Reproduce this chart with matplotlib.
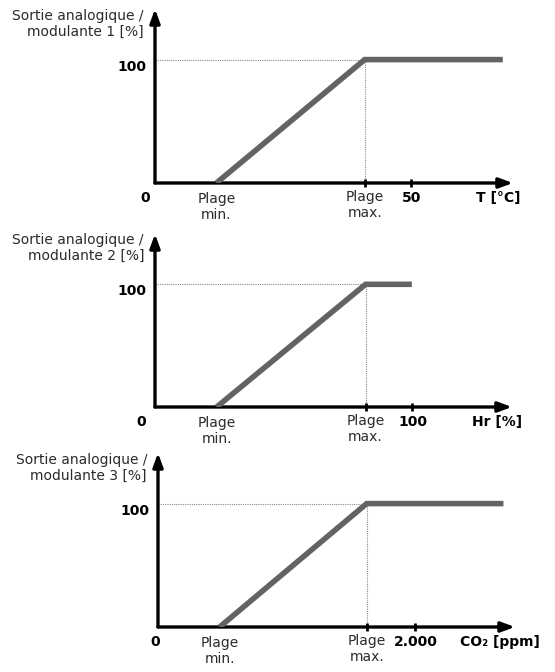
import matplotlib.pyplot as plt

# Courbes de sortie analogique / modulante (3 panneaux)
y_titles = ["Sortie analogique /\nmodulante 1 [%]",
            "Sortie analogique /\nmodulante 2 [%]",
            "Sortie analogique /\nmodulante 3 [%]"]
x_units = ["T [°C]", "Hr [%]", "CO₂ [ppm]"]
scale_ticks = [50, 100, 2000]
scale_tick_labels = ["50", "100", "2.000"]
plage_min = [12, 24, 480]
plage_max = [41, 82, 1625]
line_end = [68, 100, 2690]
axis_end = [70, 139, 2780]
y_top = 100
y_axis_end = 141

W, H = 555, 672
# axes origin (px) and arrow tips (px), top-left image coords
origins = [(155, 183), (155, 407), (158, 627)]
tips_x = [513, 512, 515]
tips_y = [9, 234, 453]
zero_dx = [-10, -14, -3]

TXT = '#2b2b2b'
LINE = '#636363'
FS = 10

fig = plt.figure(figsize=(W / 100, H / 100), dpi=100)
fig.patch.set_facecolor('white')

for i in range(3):
    ox, oy = origins[i]
    ax = fig.add_axes([ox / W, (H - oy) / H, (tips_x[i] - ox) / W, (oy - tips_y[i]) / H])
    ax.set_xlim(0, axis_end[i])
    ax.set_ylim(0, y_axis_end)
    ax.axis('off')

    # axes with arrows
    arrow = dict(arrowstyle='-|>,head_length=0.9,head_width=0.33', lw=2.4, color='black',
                 shrinkA=0, shrinkB=0, mutation_scale=9)
    ax.annotate('', xy=(axis_end[i], 0), xytext=(0, 0), arrowprops=arrow, annotation_clip=False)
    ax.annotate('', xy=(0, y_axis_end), xytext=(0, 0), arrowprops=arrow, annotation_clip=False)

    # dotted guides
    ax.plot([0, plage_max[i]], [y_top, y_top], color='#8a8a8a', lw=0.8, ls=(0, (1, 1)), zorder=1)
    ax.plot([plage_max[i], plage_max[i]], [0, y_top], color='#8a8a8a', lw=0.8, ls=(0, (1, 1)), zorder=1)

    # output curve
    ax.plot([plage_min[i], plage_max[i], line_end[i]], [0, y_top, y_top],
            color=LINE, lw=4, solid_capstyle='butt', solid_joinstyle='miter', zorder=3)

    # small ticks on x-axis
    for xv in (plage_max[i], scale_ticks[i]):
        ax.plot([xv], [0], marker='|', ms=6, mew=2, color='black', clip_on=False, zorder=4)

    # labels
    def lab(x, y, s, dx, dy, **kw):
        ax.annotate(s, xy=(x, y), xytext=(dx, dy), textcoords='offset pixels',
                    annotation_clip=False, fontsize=FS, **kw)

    lab(0, 0, "0", zero_dx[i], -15, ha='center', va='center', fontweight='bold', color='black')
    lab(plage_min[i], 0, "Plage\nmin.", 0, -24, ha='center', va='center',
        color=TXT, linespacing=1.1)
    lab(plage_max[i], 0, "Plage\nmax.", 0, -22, ha='center', va='center',
        color=TXT, linespacing=1.1)
    lab(scale_ticks[i], 0, scale_tick_labels[i], 1, -15, ha='center', va='center',
        fontweight='bold', color='black')
    lab(axis_end[i], 0, x_units[i], -15, -15, ha='center', va='center',
        fontweight='bold', color='black')
    lab(0, y_top, "100", -9, -7, ha='right', va='center', fontweight='bold', color='black')
    lab(0, 0, y_titles[i], -11, 159, ha='right', va='center', color=TXT,
        multialignment='right', linespacing=1.1)

fig.savefig('out.png', dpi=100, facecolor='white')
